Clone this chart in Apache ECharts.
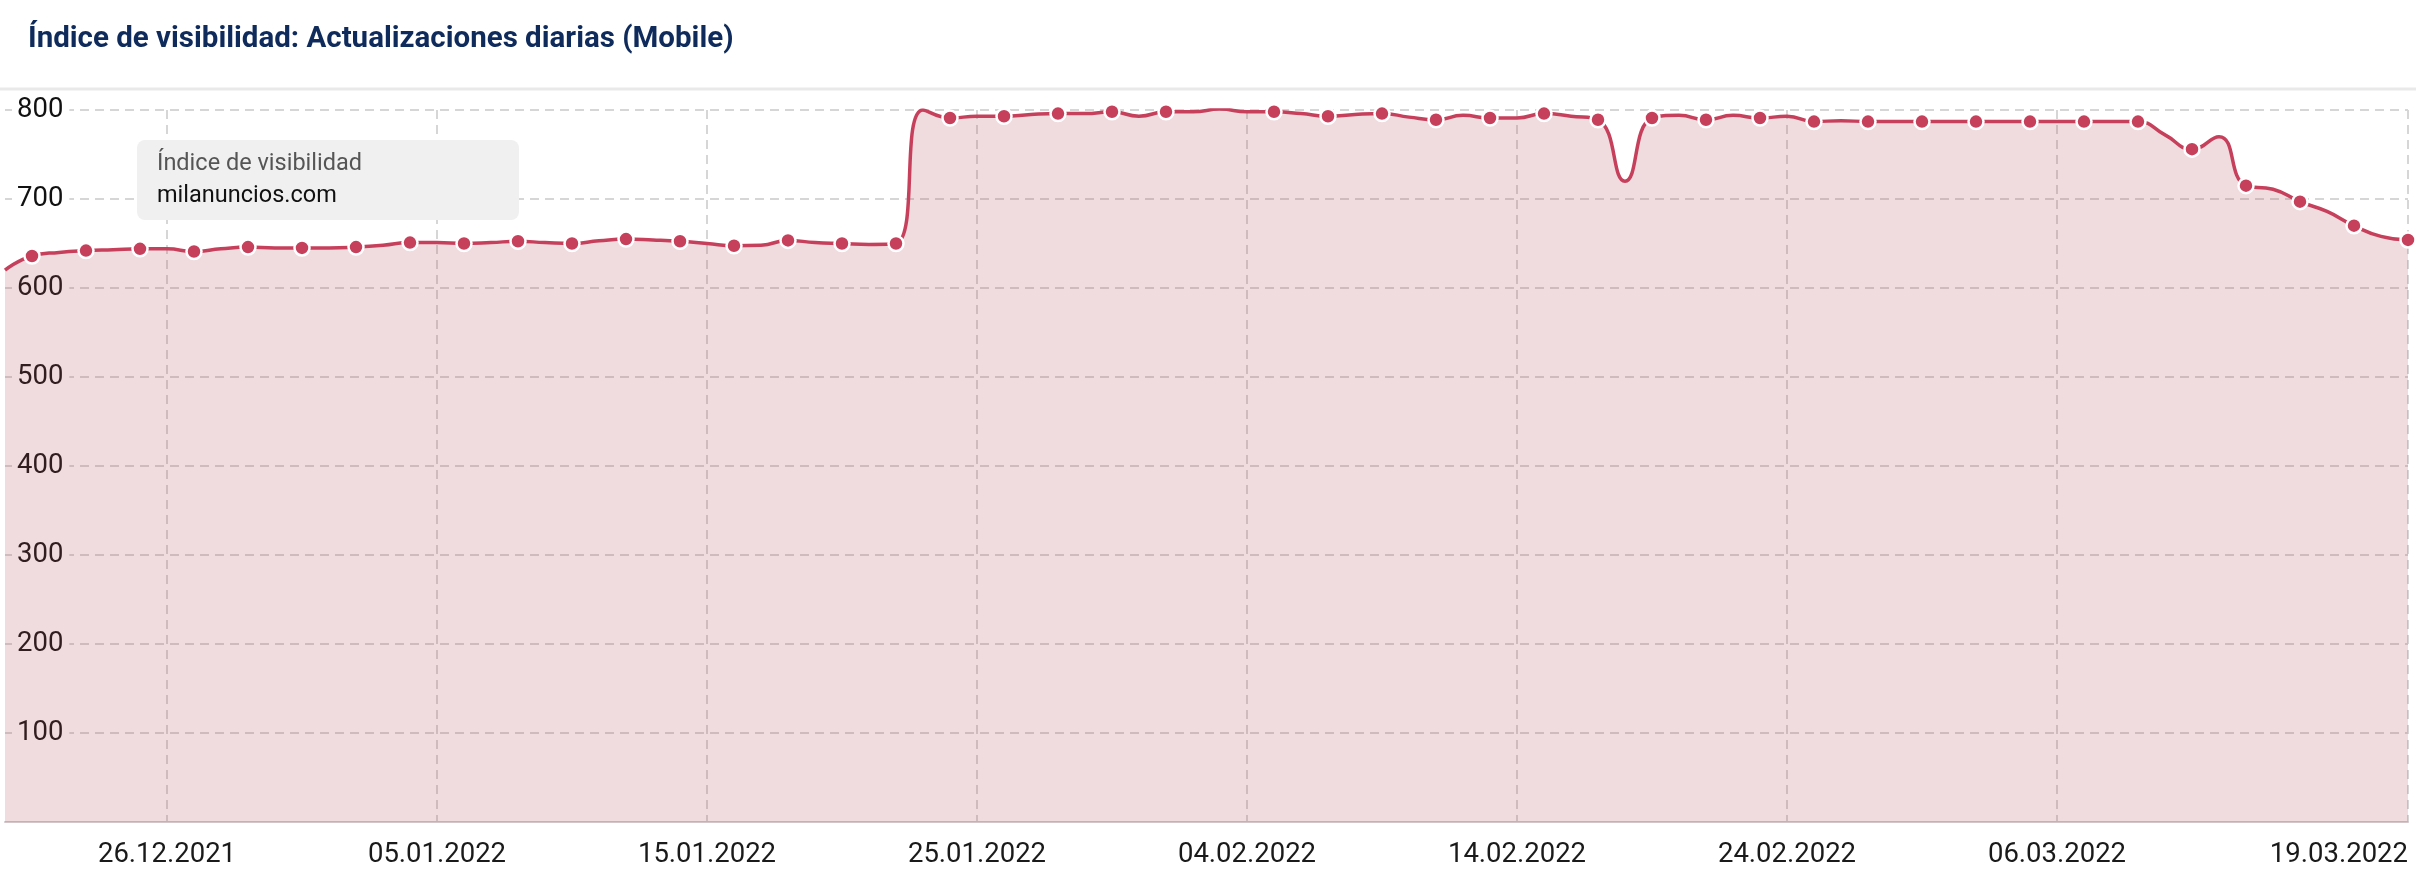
<!DOCTYPE html>
<html>
<head>
<meta charset="utf-8">
<script src="https://cdn.jsdelivr.net/npm/echarts@6/dist/echarts.min.js"></script>
<style>
  html, body { margin: 0; padding: 0; background: #fff; }
  #chart { width: 2416px; height: 890px; }
</style>
</head>
<body>
<div id="chart"></div>
<script>
// Daily visibility index values (one value per day)
const dec2021 = [620, 636, 640, 642, 643, 644, 644, 641, 644, 646, 645, 645];            // 20.12 - 31.12
const jan2022 = [645, 646, 648, 651, 651, 650, 651, 652.5, 651, 650, 653, 655, 654, 652.5, 650, 647.5,
                 648, 653.5, 651, 650, 649, 650, 800, 791, 793, 793, 795, 796, 796, 798, 793]; // 01.01 - 31.01
const feb2022 = [798, 798, 801, 798, 798, 796, 793, 795, 796, 792, 789, 794, 791, 791, 796, 793,
                 789, 720, 791, 794, 789, 794, 791, 793, 787, 788, 787, 787];             // 01.02 - 28.02
const mar2022 = [787, 787, 787, 787, 787, 787, 787, 787, 787, 772, 756, 770, 715, 711, 697, 686,
                 670, 658, 654];                                                          // 01.03 - 19.03

const monthBlocks = [
  { month: '12.2021', firstDay: 20, values: dec2021 },
  { month: '01.2022', firstDay: 1, values: jan2022 },
  { month: '02.2022', firstDay: 1, values: feb2022 },
  { month: '03.2022', firstDay: 1, values: mar2022 }
];

const tickLabels = ['26.12.2021', '05.01.2022', '15.01.2022', '25.01.2022', '04.02.2022',
                    '14.02.2022', '24.02.2022', '06.03.2022', '19.03.2022'];

const seriesName = 'milanuncios.com';
const legendHeader = 'Índice de visibilidad';
const chartTitle = 'Índice de visibilidad: Actualizaciones diarias (Mobile)';

// Build categories and values
const categories = [];
const values = [];
monthBlocks.forEach(b => {
  b.values.forEach((v, i) => {
    const d = b.firstDay + i;
    categories.push((d < 10 ? '0' + d : '' + d) + '.' + b.month);
    values.push(v);
  });
});

const isTick = (idx) => tickLabels.indexOf(categories[idx]) !== -1;

const chart = echarts.init(document.getElementById('chart'), null, { renderer: 'canvas' });

const gridLine = { color: '#d6d6d6', width: 2, type: [9, 6] };

chart.setOption({
  animation: false,
  backgroundColor: '#ffffff',
  title: {
    text: chartTitle,
    left: 28,
    top: 25,
    padding: 0,
    textStyle: { fontFamily: 'Roboto', fontWeight: 'bold', fontSize: 29.5, color: '#0f2b5b' }
  },
  grid: { left: 5, right: 8, top: 110, bottom: 68, containLabel: false },
  xAxis: {
    type: 'category',
    data: categories,
    boundaryGap: false,
    axisLine: { show: true, lineStyle: { color: '#d3c5c8', width: 2 } },
    axisTick: { show: false },
    axisLabel: {
      interval: (idx) => isTick(idx),
      fontFamily: 'Roboto',
      fontSize: 27.5,
      color: '#1a1a1a',
      margin: 19,
      alignMaxLabel: 'right'
    },
    splitLine: { show: true, interval: (idx) => isTick(idx), lineStyle: gridLine }
  },
  yAxis: [
    {
      type: 'value', min: 0, max: 800, interval: 100,
      axisLine: { show: false }, axisTick: { show: false },
      axisLabel: { show: false },
      splitLine: { show: true, lineStyle: gridLine },
      z: 0
    },
    {
      type: 'value', min: 0, max: 800, interval: 100, position: 'left',
      axisLine: { show: false }, axisTick: { show: false },
      splitLine: { show: false },
      axisLabel: {
        inside: true, margin: 7, showMinLabel: false,
        fontFamily: 'Roboto', fontSize: 27.5, color: '#111111',
        backgroundColor: '#ffffff', padding: [0, 6, 0, 5]
      },
      z: 1
    }
  ],
  series: [{
    type: 'line',
    name: seriesName,
    data: values,
    smooth: 0.5,
    showAllSymbol: true,
    symbol: (v, p) => (p.dataIndex % 2 === 1 ? 'circle' : 'none'),
    symbolSize: 15,
    lineStyle: { color: '#c6405c', width: 3.5 },
    itemStyle: { color: '#c6405c', borderColor: '#ffffff', borderWidth: 2.5 },
    areaStyle: { color: 'rgba(180,80,95,0.2)', opacity: 1 },
    z: 2
  }],
  graphic: [
    { type: 'line', shape: { x1: 0, y1: 89, x2: 2416, y2: 89 }, style: { stroke: '#e9e9e9', lineWidth: 3 }, z: 5 },
    { type: 'rect', shape: { x: 137, y: 140, width: 382, height: 80, r: 8 }, style: { fill: '#f0f0f0' }, z: 10 },
    { type: 'text', x: 157, y: 164, z: 11,
      style: { text: legendHeader, fontFamily: 'Roboto', fontSize: 23.5, fill: '#555555', verticalAlign: 'middle' } },
    { type: 'text', x: 157, y: 196, z: 11,
      style: { text: seriesName, fontFamily: 'Roboto', fontSize: 23.5, fill: '#111111', verticalAlign: 'middle' } }
  ]
});
</script>
</body>
</html>
